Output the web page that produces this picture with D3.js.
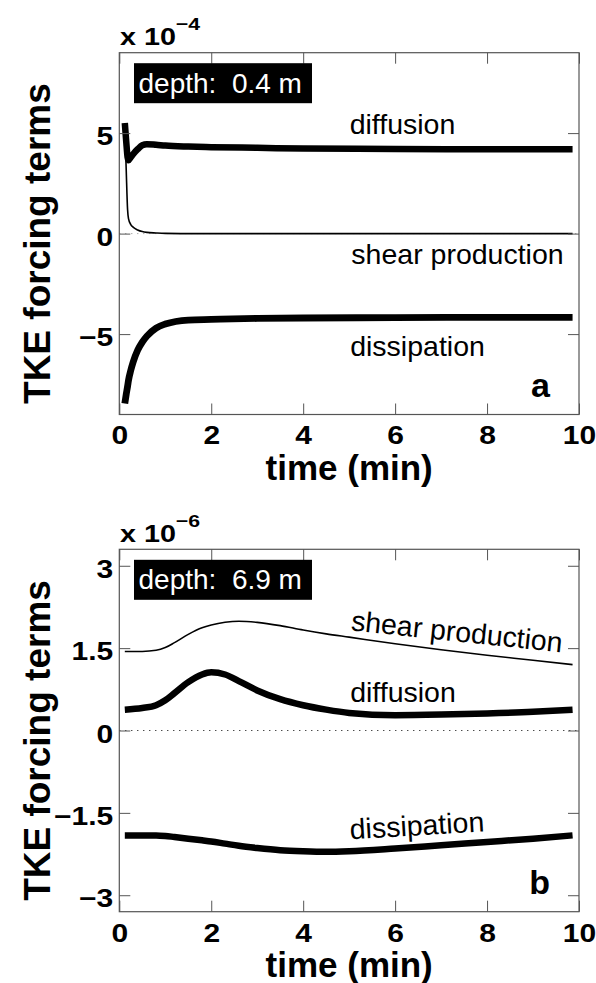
<!DOCTYPE html>
<html>
<head>
<meta charset="utf-8">
<script src="https://cdn.jsdelivr.net/npm/d3@7/dist/d3.min.js"></script>
<style>
    body { margin: 0; background: #fff; }
    text { font-family: "Liberation Sans", Arial, Helvetica, sans-serif; }
</style>
</head>
<body>
<div id="chart"></div>
<script>
// ---- panel a, depth 0.4 m (values x 1e-4) ----
var timeA = [0.12, 0.15, 0.18, 0.2, 0.25, 0.3, 0.4, 0.5, 0.6, 0.8, 1, 1.5, 2, 3, 4, 6, 8, 9.86];
var diffusionA = [5.5, 4.6, 3.8, 3.65, 3.8, 3.95, 4.2, 4.4, 4.45, 4.42, 4.38, 4.33, 4.3, 4.27, 4.23, 4.21, 4.2, 4.2];
var shearA = [5.3, 3.2, 1.2, 0.75, 0.45, 0.32, 0.18, 0.1, 0.06, 0.03, 0.01, 0, 0, 0, 0, 0, 0, 0];
var dissipationA = [-8.45, -8.0, -7.6, -7.3, -6.8, -6.4, -5.8, -5.4, -5.1, -4.7, -4.5, -4.3, -4.27, -4.22, -4.2, -4.18, -4.17, -4.17];

// ---- panel b, depth 6.9 m (values x 1e-6) ----
var timeB = [0.12, 0.5, 0.8, 1.0, 1.2, 1.5, 1.8, 2.0, 2.3, 2.6, 3.0, 3.5, 4.0, 4.5, 5.0, 6.0, 7.0, 8.0, 9.0, 9.86];
var shearB = [1.44, 1.44, 1.46, 1.51, 1.6, 1.75, 1.87, 1.92, 1.97, 1.99, 1.97, 1.91, 1.83, 1.76, 1.7, 1.58, 1.47, 1.37, 1.28, 1.2];
var diffusionB = [0.38, 0.41, 0.46, 0.55, 0.68, 0.88, 1.02, 1.06, 1.02, 0.9, 0.73, 0.57, 0.46, 0.38, 0.32, 0.28, 0.29, 0.31, 0.34, 0.38];
var dissipationB = [-1.91, -1.91, -1.91, -1.92, -1.94, -1.97, -2.0, -2.02, -2.06, -2.1, -2.14, -2.18, -2.2, -2.21, -2.2, -2.15, -2.09, -2.03, -1.97, -1.91];

// axis ticks
var xTicks = [0, 2, 4, 6, 8, 10];
var yTicksA = [-5, 0, 5];
var yTicksB = [-3, -1.5, 0, 1.5, 3];

var width = 596, height = 983;
var tickStretch = 1.2;   // the tick font of the original is wide

var svg = d3.select("#chart").append("svg")
    .attr("width", width)
    .attr("height", height);

/**
 * draws one panel of the figure
 */
function drawPanel(opt) {
    var left = 119.3, right = 579;
    var top = opt.top, bottom = opt.bottom;

    var x = d3.scaleLinear().domain([0, 10]).range([left, right]);
    var y = d3.scaleLinear().domain(opt.yDomain).range([bottom, top]);

    var g = svg.append("g");

    // dotted zero line
    g.append("line")
        .attr("x1", x(0)).attr("x2", x(10))
        .attr("y1", y(0)).attr("y2", y(0))
        .attr("stroke", opt.zeroColor)
        .attr("stroke-width", 1)
        .attr("stroke-dasharray", "1,5");

    // the curves
    var line = d3.line()
        .x(function(d) { return x(d[0]); })
        .y(function(d) { return y(d[1]); })
        .curve(d3.curveMonotoneX);

    opt.series.forEach(function(s) {
        var pts = opt.time.map(function(t, i) { return [t, s.values[i]]; });
        g.append("path")
            .attr("d", line(pts))
            .attr("fill", "none")
            .attr("stroke", "#000")
            .attr("stroke-width", s.width)
            .attr("stroke-linejoin", "round");
    });

    // box around the plot
    g.append("rect")
        .attr("x", left).attr("y", top)
        .attr("width", right - left).attr("height", bottom - top)
        .attr("fill", "none")
        .attr("stroke", "#555")
        .attr("stroke-width", 1.2);

    // x axis (ticks inside, also on top)
    var gx = g.append("g")
        .attr("transform", "translate(0," + bottom + ")")
        .call(d3.axisBottom(x).tickValues(xTicks).tickSizeInner(-11).tickSizeOuter(0));
    gx.select(".domain").remove();
    gx.selectAll(".tick line").attr("stroke", "#555");
    gx.selectAll(".tick text")
        .attr("y", 30).attr("dy", 0)
        .attr("transform", "scale(" + tickStretch + ",1)")
        .attr("font-size", 25).attr("font-weight", "bold").attr("fill", "#000")
        .attr("font-family", "Liberation Sans, Arial, sans-serif");

    var gxTop = g.append("g")
        .attr("transform", "translate(0," + top + ")")
        .call(d3.axisTop(x).tickValues(xTicks).tickSizeInner(-11).tickSizeOuter(0).tickFormat(""));
    gxTop.select(".domain").remove();
    gxTop.selectAll(".tick line").attr("stroke", "#555");

    // y axis (ticks inside, also on the right)
    var gy = g.append("g")
        .attr("transform", "translate(" + left + ",0)")
        .call(d3.axisLeft(y).tickValues(opt.yTicks).tickSizeInner(-11).tickSizeOuter(0)
            .tickFormat(function(d) { return d3.format("")(d).replace("-", "\u2212"); }));
    gy.select(".domain").remove();
    gy.selectAll(".tick line").attr("stroke", "#555");
    gy.selectAll(".tick text")
        .attr("x", -6 / tickStretch).attr("dy", 11.6)
        .attr("transform", "scale(" + tickStretch + ",1)")
        .attr("font-size", 25).attr("font-weight", "bold").attr("fill", "#000")
        .attr("font-family", "Liberation Sans, Arial, sans-serif");

    var gyRight = g.append("g")
        .attr("transform", "translate(" + right + ",0)")
        .call(d3.axisRight(y).tickValues(opt.yTicks).tickSizeInner(-11).tickSizeOuter(0).tickFormat(""));
    gyRight.select(".domain").remove();
    gyRight.selectAll(".tick line").attr("stroke", "#555");

    // exponent above the axis
    var expo = g.append("text")
        .attr("transform", "translate(120," + (top - 7.5) + ") scale(1.25,1)")
        .attr("font-size", 23).attr("font-weight", "bold");
    expo.append("tspan").text("x 10");
    expo.append("tspan").attr("dy", -15).attr("font-size", 17).text("\u2212" + opt.exponent);

    // depth box
    g.append("rect")
        .attr("x", 134).attr("y", top + 10.5)
        .attr("width", 178).attr("height", 40)
        .attr("fill", "#000");
    g.append("text")
        .attr("x", 138.5).attr("y", top + 40)
        .attr("fill", "#fff")
        .attr("font-size", 28)
        .style("white-space", "pre")
        .text("depth:  " + opt.depth + " m");

    // curve labels
    opt.labels.forEach(function(l) {
        g.append("text")
            .attr("transform", "translate(" + l.x + "," + (top + l.dy) + ") rotate(" + l.angle + ")")
            .attr("text-anchor", "middle")
            .attr("font-size", 28.5)
            .text(l.text);
    });

    // panel letter
    g.append("text")
        .attr("x", 550).attr("y", bottom - 18)
        .attr("text-anchor", "end")
        .attr("font-size", 34).attr("font-weight", "bold")
        .text(opt.letter);

    // axis titles
    g.append("text")
        .attr("x", (left + right) / 2).attr("y", bottom + 65)
        .attr("text-anchor", "middle")
        .attr("font-size", 35).attr("font-weight", "bold")
        .text("time (min)");

    g.append("text")
        .attr("transform", "translate(50," + ((top + bottom) / 2 + 10) + ") rotate(-90)")
        .attr("text-anchor", "middle")
        .attr("font-size", 37).attr("font-weight", "bold")
        .text("TKE forcing terms");
}

drawPanel({
    top: 52.7, bottom: 414.5,
    yDomain: [-9, 9], yTicks: yTicksA,
    time: timeA, exponent: "4", depth: "0.4", letter: "a",
    zeroColor: "#888",
    series: [
        { values: shearA, width: 1.6 },
        { values: diffusionA, width: 6.5 },
        { values: dissipationA, width: 6.8 }
    ],
    labels: [
        { text: "diffusion", x: 402.5, dy: 81.5, angle: 0 },
        { text: "shear production", x: 457.5, dy: 211.5, angle: 0 },
        { text: "dissipation", x: 417.5, dy: 303.5, angle: 0 }
    ]
});

drawPanel({
    top: 549.3, bottom: 911.7,
    yDomain: [-3.3, 3.3], yTicks: yTicksB,
    time: timeB, exponent: "6", depth: "6.9", letter: "b",
    zeroColor: "#000",
    series: [
        { values: shearB, width: 1.6 },
        { values: diffusionB, width: 6.5 },
        { values: dissipationB, width: 6.5 }
    ],
    labels: [
        { text: "shear production", x: 456, dy: 92, angle: 6 },
        { text: "diffusion", x: 403, dy: 152.4, angle: 0 },
        { text: "dissipation", x: 417.5, dy: 286, angle: -3.4 }
    ]
});
</script>
</body>
</html>
